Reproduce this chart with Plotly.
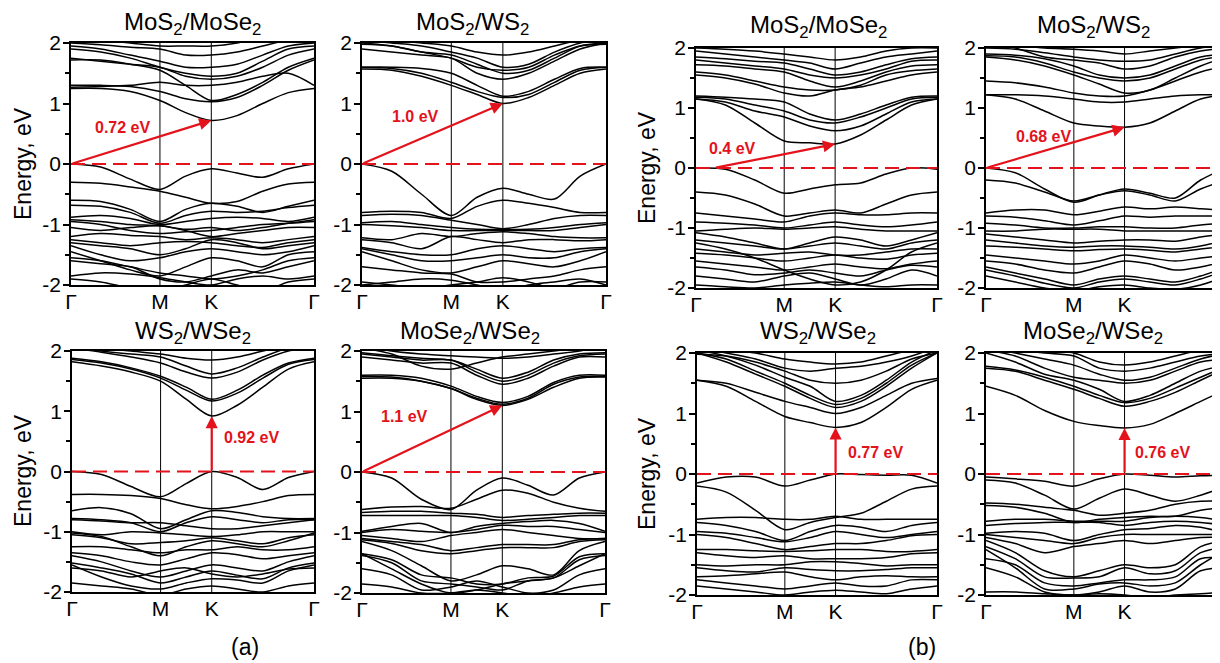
import math
import plotly.graph_objects as go

# ---------------- k-path (hexagonal BZ) ----------------
SEG_GM = 1 / math.sqrt(3)
SEG_MK = 1 / 3
SEG_KG = 2 / 3
K_NODES = [0, SEG_GM, SEG_GM + SEG_MK, SEG_GM + SEG_MK + SEG_KG]
K_LABELS = ["Γ", "M", "K", "Γ"]
K_SAMPLES = [0, SEG_GM / 3, 2 * SEG_GM / 3, SEG_GM,
             SEG_GM + SEG_MK / 2, SEG_GM + SEG_MK,
             SEG_GM + SEG_MK + SEG_KG / 4, SEG_GM + SEG_MK + SEG_KG / 2,
             SEG_GM + SEG_MK + 3 * SEG_KG / 4, K_NODES[-1]]

Y_TICKS = [-2, -1, 0, 1, 2]
Y_TICKTEXT = ["-2", "-1", "0", "1", "2"]
Y_MINOR = [-1.5, -0.5, 0.5, 1.5]

# ---------------- bands (eV) at K_SAMPLES ----------------
A_MOS2_MOSE2 = [
    [1.25, 1.25, 1.2, 1.05, 0.85, 0.72, 0.8, 1.0, 1.18, 1.25],
    [1.3, 1.3, 1.28, 1.2, 1.08, 1.03, 1.1, 1.3, 1.55, 1.72],
    [1.27, 1.28, 1.3, 1.35, 1.3, 1.3, 1.35, 1.45, 1.5, 1.3],
    [1.72, 1.72, 1.65, 1.55, 1.3, 1.05, 1.15, 1.35, 1.6, 1.75],
    [1.75, 1.7, 1.65, 1.6, 1.45, 1.4, 1.45, 1.6, 1.8, 1.9],
    [1.9, 1.85, 1.75, 1.6, 1.5, 1.45, 1.5, 1.7, 1.9, 1.95],
    [1.95, 1.9, 1.8, 1.7, 1.6, 1.6, 1.65, 1.8, 1.95, 2.0],
    [2.0, 1.97, 1.93, 1.9, 1.8, 1.8, 1.85, 1.95, 2.05, 2.1],
    [2.1, 2.05, 2.0, 1.95, 1.95, 1.95, 2.0, 2.1, 2.1, 2.1],
    [0, -0.05, -0.25, -0.42, -0.2, -0.08, -0.15, -0.22, -0.08, 0],
    [-0.3, -0.32, -0.38, -0.45, -0.55, -0.65, -0.62, -0.45, -0.33, -0.3],
    [-0.6, -0.62, -0.75, -0.95, -0.75, -0.65, -0.7, -0.8, -0.7, -0.6],
    [-0.68, -0.7, -0.8, -0.98, -0.85, -0.78, -0.8, -0.78, -0.72, -0.68],
    [-0.88, -0.85, -0.9, -1.0, -0.95, -0.9, -0.88, -0.9, -0.95, -0.88],
    [-0.92, -0.95, -1.0, -1.02, -1.08, -1.05, -1.1, -1.05, -0.98, -0.92],
    [-0.95, -1.0, -1.1, -1.15, -1.12, -1.1, -1.05, -1.0, -0.98, -0.95],
    [-1.05, -1.1, -1.05, -1.02, -1.1, -1.2, -1.15, -1.1, -1.05, -1.05],
    [-1.2, -1.15, -1.18, -1.2, -1.25, -1.22, -1.25, -1.3, -1.25, -1.2],
    [-1.25, -1.3, -1.35, -1.3, -1.28, -1.3, -1.35, -1.38, -1.3, -1.25],
    [-1.3, -1.35, -1.4, -1.5, -1.4, -1.25, -1.3, -1.4, -1.35, -1.3],
    [-1.35, -1.5, -1.6, -1.55, -1.45, -1.4, -1.45, -1.5, -1.45, -1.35],
    [-1.45, -1.6, -1.75, -1.85, -1.7, -1.55, -1.6, -1.7, -1.5, -1.45],
    [-1.55, -1.6, -1.7, -1.8, -1.85, -1.9, -1.85, -1.75, -1.6, -1.55],
    [-1.6, -1.65, -1.7, -1.9, -1.95, -1.85, -1.75, -1.8, -1.7, -1.6],
    [-1.85, -1.8, -1.82, -1.88, -1.95, -2.0, -1.9, -1.85, -1.9, -1.85],
    [-1.9, -1.95, -2.05, -2.1, -2.0, -1.9, -2.0, -2.1, -1.95, -1.9],
]

A_MOS2_WS2 = [
    [1.57, 1.55, 1.45, 1.3, 1.15, 1.0, 1.1, 1.3, 1.5, 1.57],
    [1.6, 1.58, 1.5, 1.35, 1.2, 1.1, 1.15, 1.35, 1.55, 1.6],
    [1.6, 1.6, 1.58, 1.5, 1.3, 1.12, 1.2, 1.4, 1.58, 1.6],
    [1.9, 1.85, 1.8, 1.75, 1.5, 1.4, 1.5, 1.7, 1.9, 2.0],
    [2.0, 1.95, 1.85, 1.8, 1.65, 1.5, 1.55, 1.75, 1.95, 2.0],
    [2.05, 2.0, 1.95, 1.85, 1.75, 1.6, 1.65, 1.85, 2.0, 2.05],
    [2.1, 2.05, 2.0, 1.95, 1.85, 1.8, 1.85, 1.95, 2.05, 2.1],
    [1.98, 1.95, 1.85, 1.75, 1.6, 1.55, 1.6, 1.8, 1.95, 1.98],
    [0, -0.12, -0.5, -0.85, -0.55, -0.4, -0.5, -0.58, -0.2, 0],
    [-0.8, -0.78, -0.8, -0.9, -0.7, -0.6, -0.65, -0.72, -0.8, -0.8],
    [-0.85, -0.83, -0.85, -0.93, -1.0, -1.07, -1.0, -0.9, -0.85, -0.85],
    [-0.97, -0.95, -1.0, -1.05, -1.08, -1.08, -1.08, -1.05, -1.0, -0.97],
    [-1.0, -1.02, -1.05, -1.1, -1.1, -1.1, -1.1, -1.1, -1.05, -1.0],
    [-1.22, -1.25, -1.15, -1.2, -1.15, -1.12, -1.15, -1.2, -1.22, -1.22],
    [-1.25, -1.3, -1.4, -1.2, -1.25, -1.3, -1.25, -1.25, -1.27, -1.25],
    [-1.38, -1.45, -1.5, -1.5, -1.4, -1.35, -1.4, -1.45, -1.4, -1.38],
    [-1.4, -1.5, -1.6, -1.6, -1.55, -1.5, -1.55, -1.55, -1.45, -1.4],
    [-1.45, -1.6, -1.75, -1.8, -1.7, -1.6, -1.65, -1.7, -1.6, -1.45],
    [-1.7, -1.75, -1.8, -1.82, -1.95, -1.95, -1.9, -1.85, -1.75, -1.7],
    [-1.95, -2.0, -2.05, -2.0, -1.95, -1.88, -1.95, -2.05, -1.95, -1.95],
    [-2.0, -1.95, -1.9, -1.92, -2.0, -2.1, -2.0, -1.95, -1.9, -2.0],
]

A_WS2_WSE2 = [
    [1.82, 1.75, 1.65, 1.5, 1.2, 0.92, 1.1, 1.4, 1.7, 1.82],
    [1.86, 1.8, 1.7, 1.55, 1.35, 1.17, 1.3, 1.55, 1.78, 1.86],
    [1.88, 1.82, 1.72, 1.58, 1.4, 1.2, 1.35, 1.6, 1.8, 1.88],
    [2.05, 1.98, 1.9, 1.8, 1.65, 1.55, 1.65, 1.85, 2.0, 2.05],
    [2.1, 2.0, 1.95, 1.9, 1.75, 1.62, 1.72, 1.9, 2.05, 2.1],
    [2.15, 2.05, 2.0, 1.95, 1.88, 1.85, 1.9, 2.0, 2.1, 2.15],
    [0, -0.05, -0.25, -0.42, -0.2, 0, -0.1, -0.3, -0.1, 0],
    [-0.38, -0.38, -0.4, -0.45, -0.55, -0.62, -0.58, -0.5, -0.4, -0.38],
    [-0.65, -0.6, -0.7, -0.95, -0.8, -0.65, -0.68, -0.75, -0.78, -0.78],
    [-0.78, -0.8, -0.85, -1.0, -0.85, -0.75, -0.8, -0.85, -0.8, -0.8],
    [-0.8, -0.82, -0.85, -0.85, -0.9, -0.95, -0.95, -0.9, -0.85, -0.8],
    [-1.0, -1.05, -1.0, -1.02, -1.05, -1.08, -1.05, -1.0, -1.0, -1.0],
    [-1.05, -1.1, -1.2, -1.18, -1.15, -1.1, -1.15, -1.2, -1.1, -1.05],
    [-1.02, -1.08, -1.25, -1.4, -1.25, -1.15, -1.2, -1.25, -1.15, -1.02],
    [-1.25, -1.25, -1.3, -1.35, -1.3, -1.3, -1.25, -1.3, -1.3, -1.25],
    [-1.35, -1.4, -1.5, -1.55, -1.45, -1.35, -1.38, -1.45, -1.4, -1.35],
    [-1.4, -1.5, -1.65, -1.75, -1.65, -1.55, -1.6, -1.65, -1.5, -1.4],
    [-1.52, -1.6, -1.7, -1.85, -1.75, -1.65, -1.72, -1.78, -1.6, -1.52],
    [-1.55, -1.75, -1.9, -1.95, -1.85, -1.78, -1.8, -1.85, -1.65, -1.55],
    [-1.6, -1.65, -1.75, -1.65, -1.6, -1.7, -1.75, -1.7, -1.62, -1.6],
    [-1.85, -1.9, -1.95, -2.05, -1.95, -1.9, -1.95, -2.0, -1.9, -1.85],
]

A_MOSE2_WSE2 = [
    [1.55, 1.55, 1.5, 1.38, 1.2, 1.1, 1.2, 1.4, 1.55, 1.57],
    [1.58, 1.57, 1.5, 1.38, 1.22, 1.12, 1.22, 1.45, 1.57, 1.58],
    [1.6, 1.6, 1.55, 1.42, 1.25, 1.15, 1.25, 1.48, 1.6, 1.6],
    [1.9, 1.85, 1.8, 1.8, 1.6, 1.45, 1.55, 1.75, 1.9, 1.9],
    [1.95, 1.9, 1.85, 1.85, 1.65, 1.5, 1.6, 1.8, 1.92, 1.95],
    [1.97, 1.92, 1.88, 1.85, 1.7, 1.55, 1.65, 1.85, 1.95, 1.97],
    [2.05, 1.95, 1.75, 1.7, 1.8, 1.9, 1.95, 2.0, 2.05, 2.05],
    [2.1, 2.0, 1.95, 1.92, 1.9, 1.88, 1.9, 1.95, 2.0, 2.1],
    [0, -0.1, -0.45, -0.62, -0.3, -0.1, -0.22, -0.38, -0.1, 0],
    [-0.62, -0.58, -0.57, -0.6, -0.45, -0.3, -0.35, -0.5, -0.6, -0.65],
    [-0.67, -0.65, -0.65, -0.68, -0.7, -0.75, -0.72, -0.7, -0.68, -0.68],
    [-0.72, -0.72, -0.72, -0.72, -0.75, -0.8, -0.78, -0.75, -0.72, -0.72],
    [-0.98, -0.9, -0.85, -1.0, -0.9, -0.85, -0.82, -0.8, -0.85, -0.98],
    [-1.0, -0.95, -0.98, -1.0, -0.95, -0.88, -0.9, -0.9, -0.95, -1.0],
    [-1.05, -1.1, -1.15, -1.05, -1.0, -0.95, -1.0, -1.05, -1.1, -1.1],
    [-1.1, -1.15, -1.2, -1.3, -1.25, -1.2, -1.2, -1.2, -1.12, -1.1],
    [-1.12, -1.18, -1.3, -1.35, -1.3, -1.25, -1.25, -1.25, -1.15, -1.12],
    [-1.15, -1.3, -1.55, -1.8, -1.7, -1.55, -1.6, -1.7, -1.3, -1.15],
    [-1.35, -1.45, -1.7, -1.75, -1.85, -1.85, -1.75, -1.72, -1.4, -1.35],
    [-1.38, -1.5, -1.8, -1.85, -1.9, -1.95, -1.8, -1.75, -1.45, -1.38],
    [-1.6, -1.7, -1.95, -1.9, -1.8, -1.9, -2.0, -1.95, -1.7, -1.6],
    [-1.85, -1.9, -2.0, -2.0, -1.95, -2.0, -2.05, -2.0, -1.9, -1.85],
    [-1.35, -1.6, -1.85, -2.0, -1.95, -1.85, -1.8, -1.75, -1.55, -1.35],
]

B_MOS2_MOSE2 = [
    [1.15, 1.05, 0.75, 0.45, 0.42, 0.4, 0.55, 0.8, 1.05, 1.15],
    [1.15, 1.1, 0.95, 0.85, 0.7, 0.62, 0.7, 0.9, 1.1, 1.15],
    [1.18, 1.15, 1.05, 0.95, 0.8, 0.75, 0.85, 1.0, 1.15, 1.18],
    [1.2, 1.18, 1.15, 1.1, 0.9, 0.8, 0.9, 1.05, 1.18, 1.2],
    [1.55, 1.5, 1.4, 1.25, 1.2, 1.3, 1.35, 1.45, 1.55, 1.6],
    [1.6, 1.55, 1.45, 1.35, 1.3, 1.3, 1.38, 1.55, 1.62, 1.65],
    [1.72, 1.7, 1.65, 1.6, 1.45, 1.35, 1.45, 1.6, 1.7, 1.72],
    [1.8, 1.75, 1.7, 1.65, 1.55, 1.5, 1.55, 1.65, 1.78, 1.8],
    [1.85, 1.82, 1.78, 1.75, 1.65, 1.55, 1.6, 1.72, 1.82, 1.85],
    [1.95, 1.9, 1.85, 1.8, 1.75, 1.65, 1.75, 1.85, 1.9, 1.95],
    [2.0, 1.98, 1.95, 1.9, 1.85, 1.8, 1.85, 1.95, 2.0, 2.0],
    [0, -0.02, -0.2, -0.42, -0.35, -0.28, -0.25, -0.1, 0, -0.02],
    [-0.4, -0.45, -0.6, -0.8, -0.75, -0.7, -0.75, -0.6, -0.45, -0.4],
    [-0.75, -0.8, -0.85, -0.9, -0.8, -0.75, -0.78, -0.78, -0.75, -0.75],
    [-0.9, -0.92, -0.95, -1.0, -0.95, -0.9, -0.95, -0.98, -0.95, -0.9],
    [-1.05, -1.02, -1.0, -1.02, -1.0, -0.98, -1.02, -1.05, -1.05, -1.05],
    [-1.08, -1.15, -1.25, -1.35, -1.25, -1.15, -1.2, -1.3, -1.2, -1.08],
    [-1.2, -1.25, -1.3, -1.35, -1.3, -1.25, -1.3, -1.35, -1.25, -1.2],
    [-1.35, -1.4, -1.45, -1.42, -1.4, -1.45, -1.45, -1.4, -1.35, -1.35],
    [-1.42, -1.45, -1.5, -1.55, -1.5, -1.45, -1.5, -1.52, -1.45, -1.42],
    [-1.55, -1.6, -1.65, -1.7, -1.65, -1.6, -1.65, -1.68, -1.6, -1.55],
    [-1.65, -1.7, -1.78, -1.75, -1.7, -1.75, -1.8, -1.7, -1.62, -1.65],
    [-1.8, -1.85, -1.9, -1.8, -1.75, -1.85, -1.95, -1.85, -1.7, -1.8],
    [-1.95, -1.98, -2.0, -1.95, -1.92, -1.9, -1.95, -1.98, -1.95, -1.95],
    [-1.25, -1.35, -1.5, -1.7, -1.85, -1.95, -1.9, -1.7, -1.4, -1.25],
]

B_MOS2_WS2 = [
    [1.22, 1.15, 0.95, 0.75, 0.7, 0.68, 0.75, 0.95, 1.15, 1.22],
    [1.22, 1.22, 1.2, 1.15, 1.1, 1.1, 1.15, 1.2, 1.22, 1.22],
    [1.45, 1.42, 1.35, 1.25, 1.2, 1.2, 1.3, 1.45, 1.6, 1.7],
    [1.85, 1.8, 1.7, 1.55, 1.4, 1.25, 1.3, 1.5, 1.7, 1.85],
    [1.87, 1.85, 1.75, 1.6, 1.5, 1.45, 1.5, 1.65, 1.8, 1.87],
    [1.9, 1.88, 1.82, 1.7, 1.55, 1.5, 1.55, 1.7, 1.85, 1.9],
    [2.1, 2.0, 1.85, 1.8, 1.75, 1.65, 1.7, 1.85, 1.95, 2.0],
    [2.0, 1.98, 1.92, 1.85, 1.8, 1.78, 1.8, 1.9, 2.0, 2.05],
    [2.1, 2.05, 2.0, 1.98, 1.95, 1.9, 1.95, 2.0, 2.05, 2.1],
    [0, -0.08, -0.35, -0.57, -0.45, -0.35, -0.42, -0.5, -0.2, 0],
    [-0.2, -0.25, -0.4, -0.55, -0.45, -0.38, -0.45, -0.55, -0.35, -0.2],
    [-0.75, -0.7, -0.7, -0.78, -0.72, -0.65, -0.68, -0.65, -0.68, -0.7],
    [-0.8, -0.82, -0.88, -0.95, -0.88, -0.8, -0.82, -0.8, -0.8, -0.8],
    [-0.92, -0.95, -1.0, -1.0, -0.98, -0.98, -1.0, -1.0, -0.95, -0.92],
    [-1.05, -1.05, -1.02, -1.02, -1.02, -1.05, -1.05, -1.05, -1.05, -1.05],
    [-1.1, -1.15, -1.2, -1.25, -1.22, -1.2, -1.2, -1.22, -1.15, -1.1],
    [-1.2, -1.25, -1.3, -1.32, -1.3, -1.3, -1.32, -1.35, -1.3, -1.2],
    [-1.3, -1.32, -1.35, -1.38, -1.36, -1.35, -1.37, -1.4, -1.35, -1.3],
    [-1.45, -1.5, -1.55, -1.6, -1.55, -1.45, -1.5, -1.55, -1.5, -1.45],
    [-1.55, -1.6, -1.7, -1.75, -1.65, -1.55, -1.6, -1.7, -1.65, -1.55],
    [-1.65, -1.75, -1.85, -1.95, -1.85, -1.8, -1.85, -1.9, -1.8, -1.65],
    [-1.7, -1.8, -1.92, -2.0, -1.9, -1.85, -1.9, -1.95, -1.85, -1.7],
    [-1.8, -1.9, -2.0, -2.05, -1.98, -1.95, -2.0, -2.02, -1.95, -1.8],
]

B_WS2_WSE2 = [
    [1.55, 1.45, 1.2, 0.95, 0.85, 0.77, 0.85, 1.1, 1.4, 1.55],
    [1.55, 1.5, 1.35, 1.2, 1.1, 1.0, 1.1, 1.3, 1.5, 1.58],
    [2.0, 1.85, 1.65, 1.45, 1.25, 1.1, 1.2, 1.45, 1.75, 2.0],
    [2.0, 1.9, 1.7, 1.5, 1.3, 1.15, 1.25, 1.5, 1.8, 2.0],
    [2.05, 1.95, 1.8, 1.6, 1.45, 1.2, 1.3, 1.55, 1.85, 2.05],
    [1.98, 1.95, 1.85, 1.7, 1.55, 1.5, 1.55, 1.7, 1.9, 2.0],
    [2.1, 2.0, 1.9, 1.75, 1.7, 1.75, 1.78, 1.85, 1.95, 2.1],
    [2.1, 2.05, 2.0, 1.9, 1.85, 1.82, 1.85, 1.95, 2.05, 2.1],
    [-0.15, -0.05, -0.05, -0.2, -0.1, 0, -0.01, -0.02, -0.02, -0.15],
    [-0.2, -0.3, -0.6, -0.92, -0.8, -0.72, -0.65, -0.45, -0.25, -0.2],
    [-0.75, -0.72, -0.72, -0.75, -0.75, -0.7, -0.75, -0.75, -0.75, -0.75],
    [-0.8, -0.85, -0.95, -1.1, -0.95, -0.85, -0.88, -0.95, -0.85, -0.8],
    [-0.95, -0.98, -1.05, -1.12, -1.05, -0.95, -1.0, -1.05, -1.0, -0.95],
    [-1.0, -1.05, -1.15, -1.25, -1.2, -1.15, -1.15, -1.1, -1.02, -1.0],
    [-1.25, -1.25, -1.27, -1.28, -1.27, -1.25, -1.25, -1.28, -1.28, -1.25],
    [-1.3, -1.35, -1.38, -1.35, -1.4, -1.4, -1.4, -1.38, -1.32, -1.3],
    [-1.5, -1.52, -1.5, -1.5, -1.45, -1.45, -1.48, -1.52, -1.5, -1.5],
    [-1.55, -1.6, -1.62, -1.55, -1.58, -1.6, -1.6, -1.58, -1.55, -1.55],
    [-1.7, -1.68, -1.65, -1.62, -1.7, -1.75, -1.7, -1.68, -1.7, -1.7],
    [-1.75, -1.8, -1.85, -1.9, -1.85, -1.8, -1.85, -1.85, -1.75, -1.75],
    [-1.85, -1.9, -1.95, -2.0, -1.95, -1.92, -1.95, -1.98, -1.9, -1.85],
]

B_MOSE2_WSE2 = [
    [1.45, 1.3, 1.05, 0.87, 0.8, 0.76, 0.82, 1.0, 1.2, 1.4],
    [1.75, 1.7, 1.55, 1.4, 1.25, 1.12, 1.2, 1.35, 1.55, 1.75],
    [1.78, 1.72, 1.6, 1.45, 1.3, 1.18, 1.25, 1.42, 1.6, 1.78],
    [2.0, 1.85, 1.65, 1.55, 1.4, 1.2, 1.3, 1.5, 1.7, 1.8],
    [2.05, 1.95, 1.75, 1.6, 1.55, 1.5, 1.55, 1.7, 1.85, 1.9],
    [2.1, 2.0, 1.9, 1.8, 1.65, 1.55, 1.6, 1.75, 1.9, 2.0],
    [2.1, 2.05, 2.0, 1.95, 1.75, 1.7, 1.75, 1.85, 1.95, 2.0],
    [2.1, 2.1, 2.05, 2.0, 1.85, 1.8, 1.85, 1.95, 2.05, 2.1],
    [-0.05, -0.08, -0.12, -0.2, -0.08, 0, -0.02, -0.05, -0.03, -0.02],
    [-0.1, -0.15, -0.35, -0.58, -0.4, -0.25, -0.35, -0.45, -0.35, -0.2],
    [-0.48, -0.5, -0.55, -0.6, -0.68, -0.65, -0.6, -0.5, -0.45, -0.45],
    [-0.52, -0.55, -0.65, -0.8, -0.75, -0.72, -0.7, -0.7, -0.6, -0.55],
    [-0.78, -0.75, -0.75, -0.78, -0.78, -0.78, -0.72, -0.7, -0.72, -0.78],
    [-0.85, -0.82, -0.8, -0.8, -0.8, -0.85, -0.8, -0.78, -0.8, -0.85],
    [-0.98, -0.95, -0.98, -1.1, -1.0, -0.92, -0.9, -0.85, -0.88, -0.98],
    [-1.0, -1.05, -1.1, -1.15, -1.05, -1.0, -1.0, -1.0, -1.0, -1.0],
    [-1.05, -1.15, -1.3, -1.2, -1.15, -1.1, -1.15, -1.1, -1.05, -1.05],
    [-1.1, -1.3, -1.6, -1.7, -1.6, -1.5, -1.55, -1.5, -1.2, -1.1],
    [-1.2, -1.4, -1.7, -1.72, -1.7, -1.55, -1.65, -1.6, -1.3, -1.2],
    [-1.4, -1.5, -1.8, -1.85, -1.8, -1.75, -1.75, -1.7, -1.4, -1.4],
    [-1.25, -1.55, -1.9, -1.9, -1.82, -1.8, -1.85, -1.8, -1.5, -1.25],
    [-1.55, -1.7, -1.95, -2.0, -1.95, -1.85, -1.95, -1.9, -1.6, -1.55],
    [-1.95, -1.95, -1.98, -2.0, -1.98, -2.0, -2.05, -2.0, -1.98, -1.95],
]

TITLES = ["MoS<sub>2</sub>/MoSe<sub>2</sub>", "MoS<sub>2</sub>/WS<sub>2</sub>",
          "WS<sub>2</sub>/WSe<sub>2</sub>", "MoSe<sub>2</sub>/WSe<sub>2</sub>",
          "MoS<sub>2</sub>/MoSe<sub>2</sub>", "MoS<sub>2</sub>/WS<sub>2</sub>",
          "WS<sub>2</sub>/WSe<sub>2</sub>", "MoSe<sub>2</sub>/WSe<sub>2</sub>"]
BANDS = [A_MOS2_MOSE2, A_MOS2_WS2, A_WS2_WSE2, A_MOSE2_WSE2,
         B_MOS2_MOSE2, B_MOS2_WS2, B_WS2_WSE2, B_MOSE2_WSE2]
# gap arrows: tail k, CBM energy, label text
GAP_START_K = [0, 0, SEG_GM + SEG_MK, 0, 0.12, 0, SEG_GM + SEG_MK, SEG_GM + SEG_MK]
GAP_VALUES = [0.72, 1.0, 0.92, 1.1, 0.4, 0.68, 0.77, 0.76]
GAP_LABELS = ["0.72 eV", "1.0 eV", "0.92 eV", "1.1 eV", "0.4 eV", "0.68 eV", "0.77 eV", "0.76 eV"]

# ---------------- layout (window pixels) ----------------
WIN_W, WIN_H = 1220, 663
PAGE_OFF = 8                      # default page body margin
W, H = WIN_W - PAGE_OFF, WIN_H - PAGE_OFF


def fx(px):
    return (px - PAGE_OFF) / W


def fy(py):
    return 1 - (py - PAGE_OFF) / H


# left, right(full), top, bottom
BOXES = [(71, 314, 43, 285), (362, 606, 43, 285), (72, 314, 351, 592), (362, 605, 351, 593),
         (696, 937, 48, 288), (986, 1226, 48, 288), (697, 937, 353, 595), (986, 1226, 353, 595)]
LABEL_POS = [(0.337, 0.6), (0.343, 0.78), (1.17, 0.56), (0.279, 0.91),
             (0.242, 0.33), (0.375, 0.53), (1.17, 0.35), (1.163, 0.36)]
TITLE_POS = [(193, 23), (472, 23), (193, 332), (470, 332),
             (818, 27), (1093, 27), (818, 332), (1093, 332)]
YTITLE_POS = [(23, 164), (23, 471), (647, 168), (647, 474)]

RED = "#e3121b"
FONT = "Liberation Sans, Arial, sans-serif"

fig = go.Figure()
shapes = []
annotations = []
total = K_NODES[-1]

for i, (bands, box) in enumerate(zip(BANDS, BOXES)):
    n = i + 1
    xa = "x" if n == 1 else f"x{n}"
    ya = "y" if n == 1 else f"y{n}"
    left, right, top, bottom = box
    vis_right = min(right, WIN_W)
    xmax = total * (vis_right - left) / (right - left)
    cut = vis_right < right

    xs, ys = [], []
    for b in bands:
        xs += K_SAMPLES + [None]
        ys += b + [None]
    fig.add_trace(go.Scatter(x=xs, y=ys, mode="lines", xaxis=xa, yaxis=ya,
                             line=dict(color="black", width=1.5, shape="spline", smoothing=0.9),
                             hoverinfo="skip", showlegend=False, cliponaxis=True))

    axx = dict(domain=[fx(left), min(fx(vis_right), 1.0)], anchor=ya, range=[0, xmax],
               automargin=False,
               showline=True, linecolor="black", linewidth=1.6, mirror=True,
               showgrid=False, zeroline=False, tickmode="array",
               tickvals=K_NODES, ticktext=K_LABELS, ticks="", ticklabelstandoff=-3,
               tickfont=dict(family=FONT, size=21, color="black"))
    axy = dict(domain=[fy(bottom), fy(top)], anchor=xa, range=[-2, 2],
               automargin=False,
               showline=True, linecolor="black", linewidth=1.6, mirror=(not cut),
               showgrid=False, zeroline=False, tickmode="array",
               tickvals=Y_TICKS, ticktext=Y_TICKTEXT, ticks="outside",
               ticklen=6, tickwidth=1.5, tickcolor="black", ticklabelstandoff=-2,
               minor=dict(tickvals=Y_MINOR, ticks="outside", ticklen=4,
                          tickwidth=1.5, tickcolor="black"),
               tickfont=dict(family=FONT, size=21, color="black"))
    fig.update_layout(**{("xaxis" if n == 1 else f"xaxis{n}"): axx,
                         ("yaxis" if n == 1 else f"yaxis{n}"): axy})

    # M and K vertical lines
    for kv in K_NODES[1:3]:
        shapes.append(dict(type="line", xref=xa, yref=ya, x0=kv, x1=kv, y0=-2, y1=2,
                           line=dict(color="black", width=1)))
    # Fermi level
    shapes.append(dict(type="line", xref=xa, yref=ya, x0=0, x1=xmax, y0=0, y1=0,
                       line=dict(color=RED, width=2.2, dash="14px,7px")))
    # gap arrow
    annotations.append(dict(xref=xa, yref=ya, axref=xa, ayref=ya,
                            x=K_NODES[2], y=GAP_VALUES[i], ax=GAP_START_K[i], ay=0,
                            text="", showarrow=True, arrowhead=2, arrowsize=1.1,
                            arrowwidth=2.2, arrowcolor=RED, standoff=0))
    lx, ly = LABEL_POS[i]
    annotations.append(dict(xref=xa, yref=ya, x=lx, y=ly, text=f"<b>{GAP_LABELS[i]}</b>",
                            showarrow=False, font=dict(family=FONT, size=16, color=RED)))
    tx, ty = TITLE_POS[i]
    annotations.append(dict(xref="paper", yref="paper", x=fx(tx), y=fy(ty),
                            text=TITLES[i], showarrow=False, xanchor="center", yanchor="middle",
                            font=dict(family=FONT, size=24, color="black")))

for (px, py) in YTITLE_POS:
    annotations.append(dict(xref="paper", yref="paper", x=fx(px), y=fy(py),
                            text="Energy, eV", showarrow=False, textangle=-90,
                            xanchor="center", yanchor="middle",
                            font=dict(family=FONT, size=23, color="black")))

for txt, px, py in [("(a)", 245, 647), ("(b)", 922, 647)]:
    annotations.append(dict(xref="paper", yref="paper", x=fx(px), y=fy(py), text=txt,
                            showarrow=False, xanchor="center", yanchor="middle",
                            font=dict(family=FONT, size=23, color="black")))

fig.update_layout(width=W, height=H,
                  margin=dict(l=0, r=0, t=0, b=0, pad=0, autoexpand=False),
                  plot_bgcolor="white", paper_bgcolor="white",
                  shapes=shapes, annotations=annotations, showlegend=False)

fig.write_html("out.html")
